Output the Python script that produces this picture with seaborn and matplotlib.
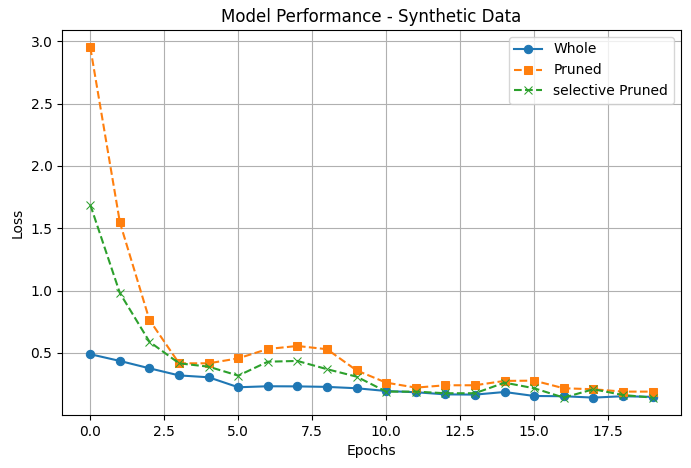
import matplotlib
import matplotlib.pyplot as plt
import numpy as np
import pandas as pd
import seaborn as sns

matplotlib.use("Agg")

epochs = list(range(20))
whole = [0.49, 0.436, 0.377, 0.32, 0.305, 0.225, 0.233, 0.232, 0.228, 0.217,
         0.195, 0.185, 0.168, 0.166, 0.187, 0.155, 0.153, 0.142, 0.153, 0.148]
pruned = [2.95, 1.547, 0.764, 0.417, 0.417, 0.457, 0.532, 0.556, 0.53, 0.36,
          0.262, 0.222, 0.241, 0.241, 0.276, 0.278, 0.217, 0.209, 0.19, 0.19]
selective = [1.688, 0.98, 0.59, 0.417, 0.39, 0.318, 0.43, 0.436, 0.37, 0.31,
             0.19, 0.19, 0.177, 0.177, 0.262, 0.217, 0.142, 0.209, 0.163, 0.142]

series = [
    ("Whole", whole, "o", "-", "#1f77b4"),
    ("Pruned", pruned, "s", "--", "#ff7f0e"),
    ("selective Pruned", selective, "x", "--", "#2ca02c"),
]

fig, ax = plt.subplots(figsize=(6.91, 4.68), dpi=100)
for name, values, marker, ls, color in series:
    df = pd.DataFrame({"epoch": epochs, "loss": values})
    sns.lineplot(data=df, x="epoch", y="loss", marker=marker, linestyle=ls,
                 color=color, label=name, ax=ax, markersize=6,
                 markeredgecolor=color, linewidth=1.5)

ax.set_title("Model Performance - Synthetic Data")
ax.set_xlabel("Epochs")
ax.set_ylabel("Loss")
ax.grid(True)
ax.legend(loc="upper right")
fig.subplots_adjust(left=0.09, right=0.985, top=0.936, bottom=0.113)
fig.savefig("out.png", dpi=100)
plt.close(fig)
